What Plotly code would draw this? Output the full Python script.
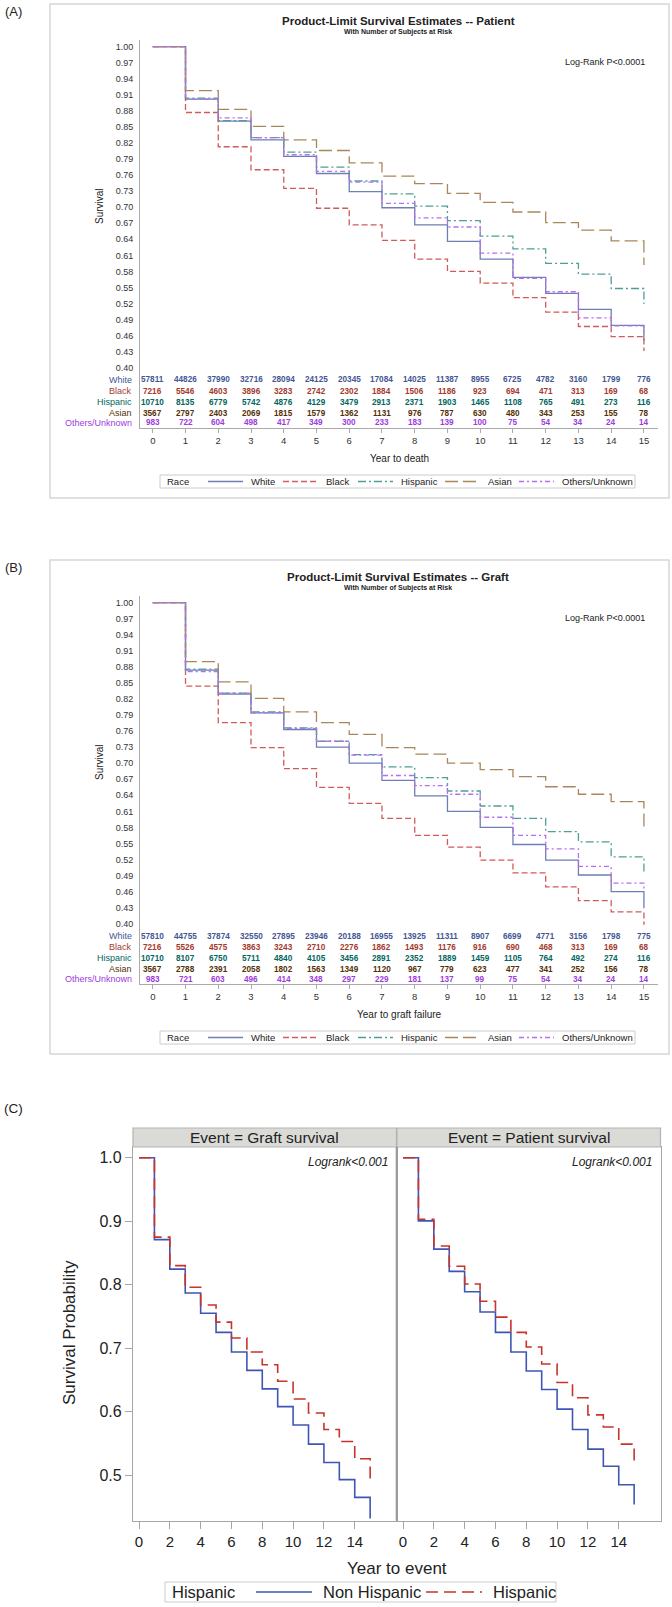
import plotly.graph_objects as go

# ---------------- DATA ----------------
years = list(range(16))
groups = ["White", "Black", "Hispanic", "Asian", "Others/Unknown"]

# survival value on [k, k+1) for k = 0..14, last entry = value after final drop at year 15
patient_white = [1.00, 0.902, 0.861, 0.826, 0.795, 0.763, 0.729, 0.699, 0.667, 0.636, 0.603, 0.569, 0.539, 0.509, 0.479, 0.451]
patient_black = [1.00, 0.877, 0.813, 0.770, 0.735, 0.698, 0.667, 0.638, 0.603, 0.580, 0.558, 0.531, 0.504, 0.477, 0.458, 0.431]
patient_hisp = [1.00, 0.904, 0.862, 0.830, 0.803, 0.775, 0.749, 0.725, 0.702, 0.675, 0.646, 0.622, 0.595, 0.575, 0.548, 0.519]
patient_asian = [1.00, 0.918, 0.883, 0.851, 0.826, 0.806, 0.783, 0.758, 0.744, 0.726, 0.709, 0.691, 0.671, 0.657, 0.637, 0.592]
patient_other = [1.00, 0.902, 0.867, 0.830, 0.798, 0.767, 0.747, 0.707, 0.680, 0.663, 0.614, 0.567, 0.542, 0.493, 0.478, 0.465]

graft_white = [1.00, 0.874, 0.829, 0.794, 0.763, 0.730, 0.700, 0.668, 0.639, 0.610, 0.580, 0.548, 0.519, 0.491, 0.460, 0.429]
graft_black = [1.00, 0.844, 0.776, 0.729, 0.690, 0.655, 0.625, 0.597, 0.565, 0.543, 0.519, 0.495, 0.469, 0.443, 0.422, 0.398]
graft_hisp = [1.00, 0.876, 0.831, 0.796, 0.766, 0.741, 0.716, 0.693, 0.673, 0.648, 0.620, 0.597, 0.572, 0.553, 0.525, 0.493]
graft_asian = [1.00, 0.890, 0.852, 0.821, 0.796, 0.776, 0.754, 0.729, 0.717, 0.700, 0.688, 0.675, 0.656, 0.642, 0.628, 0.579]
graft_other = [1.00, 0.871, 0.831, 0.794, 0.765, 0.741, 0.715, 0.677, 0.658, 0.642, 0.599, 0.565, 0.540, 0.507, 0.476, 0.462]

# number at risk
risk_patient_white = [57811, 44826, 37990, 32716, 28094, 24125, 20345, 17084, 14025, 11387, 8955, 6725, 4782, 3160, 1799, 776]
risk_patient_black = [7216, 5546, 4603, 3896, 3283, 2742, 2302, 1884, 1506, 1186, 923, 694, 471, 313, 169, 68]
risk_patient_hisp = [10710, 8135, 6779, 5742, 4876, 4129, 3479, 2913, 2371, 1903, 1465, 1108, 765, 491, 273, 116]
risk_patient_asian = [3567, 2797, 2403, 2069, 1815, 1579, 1362, 1131, 976, 787, 630, 480, 343, 253, 155, 78]
risk_patient_other = [983, 722, 604, 498, 417, 349, 300, 233, 183, 139, 100, 75, 54, 34, 24, 14]

risk_graft_white = [57810, 44755, 37874, 32550, 27895, 23946, 20188, 16955, 13925, 11311, 8907, 6699, 4771, 3156, 1798, 775]
risk_graft_black = [7216, 5526, 4575, 3863, 3243, 2710, 2276, 1862, 1493, 1176, 916, 690, 468, 313, 169, 68]
risk_graft_hisp = [10710, 8107, 6750, 5711, 4840, 4105, 3456, 2891, 2352, 1889, 1459, 1105, 764, 492, 274, 116]
risk_graft_asian = [3567, 2788, 2391, 2058, 1802, 1563, 1349, 1120, 967, 779, 623, 477, 341, 252, 156, 78]
risk_graft_other = [983, 721, 603, 496, 414, 348, 297, 229, 181, 137, 99, 75, 54, 34, 24, 14]

y_ticks_ab = [0.40, 0.43, 0.46, 0.49, 0.52, 0.55, 0.58, 0.61, 0.64, 0.67, 0.70,
              0.73, 0.76, 0.79, 0.82, 0.85, 0.88, 0.91, 0.94, 0.97, 1.00]

# panel C: Hispanic vs Non Hispanic
hisp_groups = ["Non Hispanic", "Hispanic"]
c_graft_nonhisp = [1.0, 0.871, 0.8245, 0.787, 0.755, 0.725, 0.694, 0.665, 0.636, 0.608, 0.579, 0.549, 0.520, 0.493, 0.465, 0.432]
c_graft_hisp = [1.0, 0.875, 0.830, 0.796, 0.768, 0.741, 0.716, 0.694, 0.674, 0.648, 0.620, 0.598, 0.572, 0.553, 0.526, 0.492]
c_patient_nonhisp = [1.0, 0.9005, 0.856, 0.821, 0.789, 0.757, 0.725, 0.694, 0.664, 0.635, 0.604, 0.572, 0.541, 0.514, 0.485, 0.454]
c_patient_hisp = [1.0, 0.903, 0.861, 0.829, 0.801, 0.774, 0.749, 0.725, 0.702, 0.675, 0.646, 0.622, 0.595, 0.576, 0.549, 0.520]
c_x_ticks = [0, 2, 4, 6, 8, 10, 12, 14]
c_y_ticks = [0.5, 0.6, 0.7, 0.8, 0.9, 1.0]

# ---------------- STYLE / LAYOUT ----------------
W, H = 672, 1607
FONT = "Liberation Sans, Arial, Helvetica, sans-serif"
line_colors = ["#6f7eb3", "#d05b5b", "#4e9f96", "#a9865b", "#b86ef0"]
text_colors = ["#445694", "#a23a2e", "#01665e", "#543005", "#9d3cdb"]
dashes = ["solid", "6px,3px", "8px,3px,2px,3px", "13px,5px", "5px,3px,2px,3px"]
c_colors = ["#3f55b5", "#c8332a"]
c_dashes = ["solid", "12px,6px"]


def px(x):
    return x / W


def py(y):
    return 1 - y / H


fig = go.Figure()
annotations = []
shapes = []


def ann(text, x, y, size, color="#222222", xanchor="center", yanchor="middle",
        xref="paper", yref="paper", angle=0):
    annotations.append(dict(text=text, x=x, y=y, xref=xref, yref=yref, xanchor=xanchor,
                            yanchor=yanchor, showarrow=False, textangle=angle,
                            font=dict(family=FONT, size=size, color=color)))


panels = [
    dict(off=0, ax="", label="(A)", title="Product-Limit Survival Estimates -- Patient",
         xtitle="Year to death",
         surv=[patient_white, patient_black, patient_hisp, patient_asian, patient_other],
         risk=[risk_patient_white, risk_patient_black, risk_patient_hisp, risk_patient_asian, risk_patient_other]),
    dict(off=556, ax="2", label="(B)", title="Product-Limit Survival Estimates -- Graft",
         xtitle="Year to graft failure",
         surv=[graft_white, graft_black, graft_hisp, graft_asian, graft_other],
         risk=[risk_graft_white, risk_graft_black, risk_graft_hisp, risk_graft_asian, risk_graft_other]),
]

PXU = 535.0  # pixels per survival unit in A/B
for p in panels:
    off = p["off"]
    ax = p["ax"]
    y_one = 46.7 + off
    top, bot = 40 + off, 428 + off
    yr = [1.0 - (bot - y_one) / PXU, 1.0 + (y_one - top) / PXU]
    fig.update_layout(**{
        "xaxis" + ax: dict(domain=[px(140), px(658)], range=[-0.39, 15.43], anchor="y" + ax,
                           showline=True, linecolor="#aaaaaa", linewidth=1, ticks="outside",
                           ticklen=4, tickcolor="#aaaaaa", tickvals=years, showgrid=False,
                           zeroline=False, tickfont=dict(family=FONT, size=9.5, color="#333333")),
        "yaxis" + ax: dict(domain=[py(bot), py(top)], range=yr, anchor="x" + ax,
                           showline=True, linecolor="#aaaaaa", linewidth=1, ticks="outside",
                           ticklen=4, tickcolor="rgba(0,0,0,0)", tickvals=y_ticks_ab,
                           ticktext=["%.2f" % v for v in y_ticks_ab], showgrid=False,
                           zeroline=False, tickfont=dict(family=FONT, size=9, color="#333333")),
    })
    for g, vals, col, dsh in zip(groups, p["surv"], line_colors, dashes):
        fig.add_trace(go.Scatter(x=years, y=vals, mode="lines", name=g, showlegend=False,
                                 line=dict(shape="hv", color=col, width=1.3, dash=dsh),
                                 xaxis="x" + ax, yaxis="y" + ax))
    # frame
    shapes.append(dict(type="rect", xref="paper", yref="paper", x0=px(50), x1=px(669),
                       y0=py(4 + off), y1=py(498 + off), line=dict(color="#d6d6d6", width=1.5)))
    ann(p["label"], px(3), py(11.7 + off), 13, "#222222", xanchor="left")
    ann("<b>" + p["title"] + "</b>", px(398), py(21 + off), 11.5, "#222222")
    ann("<b>With Number of Subjects at Risk</b>", px(398), py(32 + off), 7, "#222222")
    ann("Log-Rank P<0.0001", px(647), py(62 + off), 9, "#222222", xanchor="right")
    ann("Survival", px(99), py(206 + off), 10, "#222222", angle=-90)
    ann(p["xtitle"], px(399), py(458 + off), 10, "#222222")
    # risk table
    row_y = [380, 391, 402, 413, 423]
    for g, counts, tcol, ry in zip(groups, p["risk"], text_colors, row_y):
        ann(g, px(134), py(ry + off), 9, tcol, xanchor="right")
        for yv, n in zip(years, counts):
            ann("<b>%d</b>" % n, yv, py(ry + off), 8.2, tcol, xref="x" + ax)
    # legend
    ly = 481.5 + off
    shapes.append(dict(type="rect", xref="paper", yref="paper", x0=px(160), x1=px(635),
                       y0=py(475 + off), y1=py(488 + off), line=dict(color="#cccccc", width=1)))
    ann("Race", px(165), py(ly), 9.5, "#222222", xanchor="left")
    line_starts = [208, 283, 358, 445, 519]
    for g, col, dsh, ls in zip(groups, line_colors, dashes, line_starts):
        shapes.append(dict(type="line", xref="paper", yref="paper", x0=px(ls), x1=px(ls + 35),
                           y0=py(ly), y1=py(ly), line=dict(color=col, width=1.3, dash=dsh)))
        ann(g, px(ls + 41), py(ly), 9.5, "#222222", xanchor="left")

# ---------------- PANEL C ----------------
c_top, c_bot = 1147, 1520.5
c_one = 1157.7
CPU = 635.0
c_yr = [0.5 - (c_bot - (c_one + 0.5 * CPU)) / CPU, 1.0 + (c_one - c_top) / CPU]
c_panels = [
    dict(ax="3", x0=133, x1=396.5, strip="Event = Graft survival", surv=[c_graft_nonhisp, c_graft_hisp]),
    dict(ax="4", x0=397, x1=660.5, strip="Event = Patient survival", surv=[c_patient_nonhisp, c_patient_hisp]),
]
for i, cp in enumerate(c_panels):
    ax = cp["ax"]
    fig.update_layout(**{
        "xaxis" + ax: dict(domain=[px(cp["x0"]), px(cp["x1"])], range=[-0.39, 16.71], anchor="y" + ax,
                           showline=True, mirror=True, linecolor="#a6a6a6", linewidth=1.2,
                           ticks="outside", ticklen=7, tickcolor="#a6a6a6", tickvals=c_x_ticks,
                           showgrid=False, zeroline=False,
                           tickfont=dict(family=FONT, size=15, color="#222222")),
        "yaxis" + ax: dict(domain=[py(c_bot), py(c_top)], range=c_yr, anchor="x" + ax,
                           showline=True, mirror=True, linecolor="#a6a6a6", linewidth=1.2,
                           ticks="outside" if i == 0 else "", ticklen=7, tickcolor="#a6a6a6",
                           tickvals=c_y_ticks, ticktext=["%.1f" % v for v in c_y_ticks],
                           showticklabels=(i == 0), showgrid=False, zeroline=False,
                           tickfont=dict(family=FONT, size=16, color="#222222")),
    })
    for g, vals, col, dsh in zip(hisp_groups, cp["surv"], c_colors, c_dashes):
        fig.add_trace(go.Scatter(x=years, y=vals, mode="lines", name=g, showlegend=False,
                                 line=dict(shape="hv", color=col, width=1.6, dash=dsh),
                                 xaxis="x" + ax, yaxis="y" + ax))
    shapes.append(dict(type="rect", xref="paper", yref="paper", x0=px(cp["x0"]), x1=px(cp["x1"]),
                       y0=py(1147), y1=py(1128), fillcolor="#dadad7",
                       line=dict(color="#b4b4b4", width=1.2)))
    ann(cp["strip"], px((cp["x0"] + cp["x1"]) / 2), py(1137.5), 15.5, "#222222")
    ann("<i>Logrank<0.001</i>", px(cp["x1"] - 7), py(1162), 12, "#222222", xanchor="right")

shapes.append(dict(type="line", xref="paper", yref="paper", x0=px(396.8), x1=px(396.8),
                   y0=py(1147), y1=py(1520.5), line=dict(color="#9a9a9a", width=2.2)))
ann("(C)", px(2), py(1108), 13.5, "#222222", xanchor="left")
ann("Survival Probability", px(69), py(1333), 17, "#222222", angle=-90)
ann("Year to event", px(397), py(1568), 17, "#222222")
# legend C
cly = 1592
shapes.append(dict(type="rect", xref="paper", yref="paper", x0=px(165), x1=px(556),
                   y0=py(1582), y1=py(1602), line=dict(color="#cccccc", width=1)))
ann("Hispanic", px(170), py(cly), 16.5, "#222222", xanchor="left")
for g, col, dsh, ls, ts in zip(hisp_groups, c_colors, c_dashes, [256, 426], [321, 491]):
    shapes.append(dict(type="line", xref="paper", yref="paper", x0=px(ls), x1=px(ls + 56),
                       y0=py(cly), y1=py(cly), line=dict(color=col, width=1.6, dash=dsh)))
    ann(g, px(ts), py(cly), 16.5, "#222222", xanchor="left")

fig.update_layout(width=W, height=H, margin=dict(l=0, r=0, t=0, b=0),
                  paper_bgcolor="white", plot_bgcolor="white", showlegend=False,
                  font=dict(family=FONT), annotations=annotations, shapes=shapes)
fig.write_html("out.html", config={"displayModeBar": False},
               post_script="document.body.style.margin='0px';document.body.style.padding='0px';"
                           "document.body.style.overflow='hidden';")
